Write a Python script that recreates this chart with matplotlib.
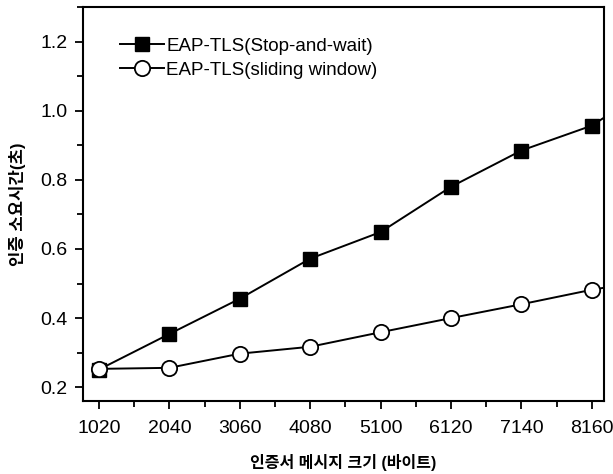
import matplotlib
matplotlib.use('Agg')
from matplotlib import pyplot as plt
from matplotlib.ticker import AutoMinorLocator, MultipleLocator

plt.rcParams['font.family'] = ['Liberation Sans', 'Noto Sans CJK KR', 'DejaVu Sans']

# message sizes in bytes (last one lies past the right edge, only its line shows)
sizes = ['1020', '2040', '3060', '4080', '5100', '6120', '7140', '8160', '9180']
stop_and_wait = [0.251, 0.354, 0.456, 0.572, 0.649, 0.780, 0.885, 0.957, 1.09]
sliding_window = [0.253, 0.256, 0.297, 0.317, 0.359, 0.400, 0.440, 0.482, 0.515]

fig = plt.figure(figsize=(6.13, 4.74), dpi=100)
ax = fig.add_axes([0.135, 0.154, 0.85, 0.831])

idx = list(range(len(sizes)))
ax.plot(idx, stop_and_wait, color='black', lw=1.4, marker='s', ms=10.5,
        mfc='black', mec='black', label='EAP-TLS(Stop-and-wait)')
ax.plot(idx, sliding_window, color='black', lw=1.4, marker='o', ms=11,
        mfc='white', mec='black', mew=1.3, label='EAP-TLS(sliding window)')

ax.set_xlim(-0.23, 7.17)
ax.set_ylim(0.16, 1.30)
ax.set_xticks(idx[:8])
ax.set_xticklabels(sizes[:8])
ax.xaxis.set_minor_locator(MultipleLocator(0.5))
ax.yaxis.set_major_locator(MultipleLocator(0.2))
ax.yaxis.set_minor_locator(AutoMinorLocator(2))

ax.tick_params(which='both', direction='out', top=False, right=False,
               labelsize=14, width=1.3)
ax.tick_params(which='major', length=6)
ax.tick_params(axis='x', which='major', pad=8)
ax.tick_params(axis='y', which='major', pad=5)
ax.tick_params(which='minor', length=4)
for s in ax.spines.values():
    s.set_linewidth(1.5)

ax.set_xlabel('인증서 메시지 크기 (바이트)', fontsize=11.5, fontweight='bold', labelpad=12)
ax.set_ylabel('인증 소요시간(초)', fontsize=12, fontweight='bold', labelpad=10)

ax.legend(loc='upper left', bbox_to_anchor=(0.04, 0.965), frameon=False,
          fontsize=13.5, handlelength=2.3, handletextpad=0.15, labelspacing=0.35)

fig.savefig('out.png', dpi=100)
